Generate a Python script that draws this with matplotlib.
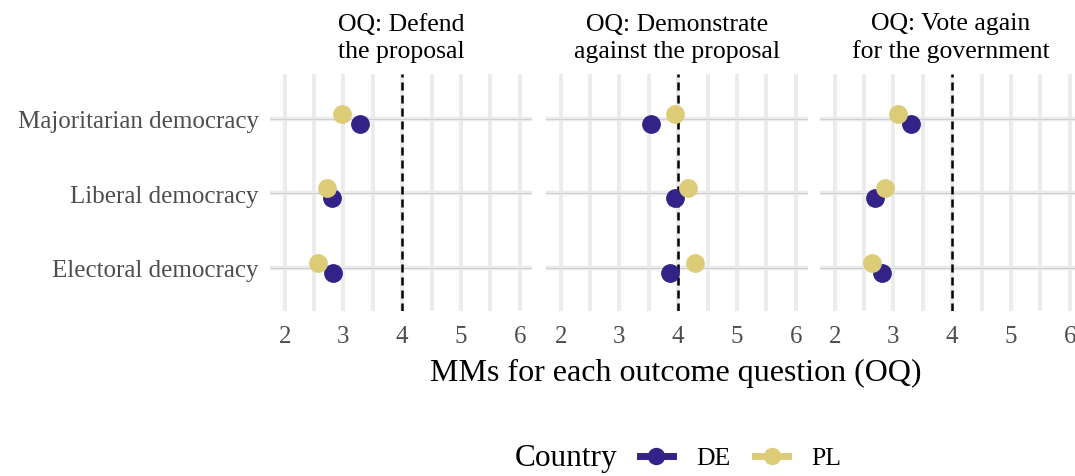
import matplotlib.pyplot as plt
from matplotlib.lines import Line2D
import numpy as np

plt.rcParams['font.family'] = ['Liberation Serif', 'DejaVu Serif']

# data
panels = ['OQ: Defend\nthe proposal', 'OQ: Demonstrate\nagainst the proposal', 'OQ: Vote again\nfor the government']
rows = ['Electoral democracy', 'Liberal democracy', 'Majoritarian democracy']
de_vals = [[2.83, 2.81, 3.28], [3.86, 3.95, 3.54], [2.80, 2.69, 3.30]]
pl_vals = [[2.56, 2.72, 2.97], [4.29, 4.16, 3.95], [2.64, 2.86, 3.08]]
err = 0.12
col_de = '#332288'
col_pl = '#DDCC77'

fig = plt.figure(figsize=(10.75, 4.77), dpi=100)
W, H = 1075, 477
lefts = [270, 546, 820]
pw = 262
top, bot = 75, 312

y = np.arange(1, len(rows) + 1)
for i, left in enumerate(lefts):
    ax = fig.add_axes([left / W, 1 - bot / H, pw / W, (bot - top) / H])
    ax.set_xlim(1.75, 6.21)
    ax.set_ylim(0.42, 3.6)
    for s in ax.spines.values():
        s.set_visible(False)
    for xv in np.arange(2, 6.01, 0.5):
        ax.axvline(xv, color='#EBEBEB', lw=2.8, zorder=0)
    for yv in y:
        ax.axhline(yv, color='#EBEBEB', lw=3.2, zorder=0)
        ax.axhline(yv, color='#CFCFCF', lw=0.7, zorder=0.5)
    ax.axvline(4, color='black', lw=1.8, ls=(0, (3.2, 2.0)), zorder=1)
    ax.errorbar(de_vals[i], y - 0.07, xerr=err, fmt='o', color=col_de, ms=12.5,
                elinewidth=4, capsize=0, zorder=3)
    ax.errorbar(pl_vals[i], y + 0.07, xerr=err, fmt='o', color=col_pl, ms=12.5,
                elinewidth=4, capsize=0, zorder=3)
    ax.set_xticks([2, 3, 4, 5, 6])
    ax.tick_params(length=0, labelsize=18, labelcolor='#4D4D4D', pad=8)
    ax.tick_params(axis='x', pad=10)
    ax.set_yticks(y)
    if i == 0:
        ax.set_yticklabels(rows)
    else:
        ax.set_yticklabels([])
    ax.set_title(panels[i], fontsize=18.5, pad=12, linespacing=1.3)

fig.text(0.629, 1 - 373 / H, 'MMs for each outcome question (OQ)', ha='center',
         va='center', fontsize=23)
fig.text(0.479, 1 - 459 / H, 'Country', ha='left', va='center', fontsize=22.5)
handles = [Line2D([], [], color=col_de, lw=5, marker='o', ms=11.5),
           Line2D([], [], color=col_pl, lw=5, marker='o', ms=11.5)]
fig.legend(handles, ['DE', 'PL'], loc='center left', bbox_to_anchor=(0.595, 1 - 459 / H),
           ncol=2, frameon=False, fontsize=18.5, handlelength=1.3, columnspacing=0.95,
           handletextpad=0.9, borderaxespad=0, borderpad=0)

fig.savefig('out.png', dpi=100)
